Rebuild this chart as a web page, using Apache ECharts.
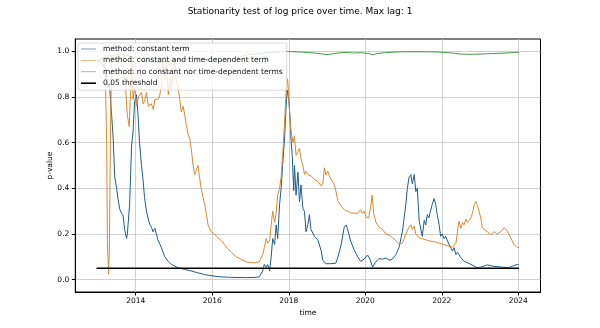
<!DOCTYPE html>
<html>
<head>
<meta charset="utf-8">
<title>Stationarity test of log price</title>
<script src="https://cdn.jsdelivr.net/npm/echarts@6/dist/echarts.min.js"></script>
<style>
  html, body { margin: 0; padding: 0; background: #fff; }
  #chart { width: 600px; height: 328px; }
</style>
</head>
<body>
<div id="chart"></div>
<script>
// p-values of the unit root test, [year, p-value]
var constantTerm = [
  [2012.975, 0.96], [2013.105, 0.95], [2013.21, 0.92], [2013.28, 0.84], [2013.31, 0.86],
  [2013.366, 0.73], [2013.41, 0.62], [2013.45, 0.45], [2013.50, 0.40], [2013.54, 0.35],
  [2013.58, 0.31], [2013.63, 0.29], [2013.67, 0.28], [2013.71, 0.22], [2013.76, 0.18],
  [2013.78, 0.20], [2013.84, 0.33], [2013.89, 0.585], [2013.93, 0.65], [2013.97, 0.78],
  [2014.02, 0.81], [2014.06, 0.72], [2014.10, 0.60], [2014.15, 0.50], [2014.19, 0.44],
  [2014.23, 0.36], [2014.28, 0.30], [2014.32, 0.27], [2014.37, 0.24], [2014.41, 0.23],
  [2014.45, 0.21], [2014.50, 0.225], [2014.54, 0.20], [2014.58, 0.175], [2014.67, 0.14],
  [2014.76, 0.10], [2014.85, 0.08], [2014.93, 0.067], [2015.11, 0.052], [2015.27, 0.045],
  [2015.45, 0.038], [2015.80, 0.022], [2016.15, 0.013], [2016.50, 0.010], [2016.89, 0.009],
  [2017.15, 0.010], [2017.23, 0.013], [2017.32, 0.038], [2017.36, 0.067], [2017.41, 0.055],
  [2017.45, 0.066], [2017.50, 0.039], [2017.54, 0.10], [2017.58, 0.18], [2017.63, 0.154],
  [2017.67, 0.24], [2017.71, 0.18], [2017.76, 0.33], [2017.80, 0.40], [2017.84, 0.50],
  [2017.89, 0.62], [2017.93, 0.76], [2017.96, 0.83], [2018.00, 0.79], [2018.04, 0.69],
  [2018.06, 0.61], [2018.09, 0.545], [2018.13, 0.39], [2018.15, 0.50], [2018.19, 0.37],
  [2018.24, 0.47], [2018.28, 0.34], [2018.32, 0.415], [2018.37, 0.31], [2018.41, 0.30],
  [2018.45, 0.21], [2018.50, 0.24], [2018.54, 0.285], [2018.58, 0.22], [2018.67, 0.19],
  [2018.76, 0.175], [2018.85, 0.125], [2018.89, 0.085], [2018.97, 0.07], [2019.10, 0.07],
  [2019.23, 0.072], [2019.28, 0.096], [2019.37, 0.154], [2019.45, 0.23], [2019.50, 0.24],
  [2019.54, 0.22], [2019.57, 0.20], [2019.62, 0.168], [2019.71, 0.13], [2019.80, 0.10],
  [2019.88, 0.08], [2019.97, 0.09], [2020.06, 0.108], [2020.12, 0.09], [2020.19, 0.055],
  [2020.28, 0.08], [2020.36, 0.092], [2020.45, 0.09], [2020.54, 0.095], [2020.62, 0.085],
  [2020.71, 0.09], [2020.80, 0.11], [2020.88, 0.14], [2020.97, 0.21], [2021.06, 0.33],
  [2021.10, 0.40], [2021.14, 0.445], [2021.19, 0.46], [2021.23, 0.42], [2021.28, 0.46],
  [2021.32, 0.386], [2021.36, 0.40], [2021.41, 0.256], [2021.45, 0.25], [2021.49, 0.19],
  [2021.54, 0.26], [2021.58, 0.24], [2021.62, 0.285], [2021.66, 0.27], [2021.75, 0.33],
  [2021.80, 0.355], [2021.84, 0.33], [2021.88, 0.285], [2021.93, 0.24], [2021.97, 0.19],
  [2022.01, 0.20], [2022.06, 0.18], [2022.10, 0.19], [2022.19, 0.154], [2022.28, 0.125],
  [2022.32, 0.14], [2022.37, 0.11], [2022.41, 0.12], [2022.50, 0.096], [2022.58, 0.081],
  [2022.76, 0.067], [2022.93, 0.052], [2023.02, 0.055], [2023.11, 0.06], [2023.19, 0.065],
  [2023.24, 0.067], [2023.36, 0.058], [2023.54, 0.056], [2023.71, 0.052], [2023.80, 0.056],
  [2023.89, 0.062], [2023.97, 0.067], [2024.02, 0.064]
];

var constantAndTrend = [
  [2012.975, 0.93], [2013.10, 0.97], [2013.20, 0.95], [2013.24, 0.60], [2013.26, 0.16],
  [2013.29, 0.023], [2013.31, 0.12], [2013.34, 0.65], [2013.37, 0.98], [2013.45, 0.96],
  [2013.55, 0.99], [2013.65, 0.93], [2013.73, 0.85], [2013.78, 0.72], [2013.83, 0.67],
  [2013.86, 0.80], [2013.90, 0.97], [2013.93, 0.79], [2013.97, 0.84], [2014.02, 0.76],
  [2014.07, 0.80], [2014.15, 0.82], [2014.19, 0.77], [2014.23, 0.78], [2014.28, 0.82],
  [2014.33, 0.76], [2014.41, 0.77], [2014.46, 0.745], [2014.50, 0.79], [2014.58, 0.79],
  [2014.62, 0.80], [2014.67, 0.85], [2014.71, 0.95], [2014.76, 0.875], [2014.80, 0.96],
  [2014.85, 0.81], [2014.89, 0.88], [2014.93, 0.83], [2014.98, 0.895], [2015.02, 0.97],
  [2015.06, 0.87], [2015.11, 0.84], [2015.15, 0.79], [2015.19, 0.735], [2015.24, 0.76],
  [2015.28, 0.72], [2015.32, 0.68], [2015.37, 0.635], [2015.41, 0.62], [2015.45, 0.575],
  [2015.50, 0.50], [2015.54, 0.46], [2015.58, 0.48], [2015.63, 0.50], [2015.67, 0.445],
  [2015.71, 0.40], [2015.80, 0.33], [2015.85, 0.285], [2015.89, 0.24], [2015.93, 0.235],
  [2015.97, 0.21], [2016.06, 0.20], [2016.15, 0.183], [2016.24, 0.17], [2016.32, 0.154],
  [2016.41, 0.135], [2016.50, 0.12], [2016.63, 0.10], [2016.76, 0.088], [2016.89, 0.078],
  [2017.02, 0.075], [2017.12, 0.074], [2017.17, 0.08], [2017.23, 0.078], [2017.28, 0.095],
  [2017.32, 0.11], [2017.36, 0.14], [2017.41, 0.18], [2017.45, 0.16], [2017.50, 0.17],
  [2017.54, 0.24], [2017.58, 0.30], [2017.63, 0.25], [2017.67, 0.29], [2017.71, 0.37],
  [2017.76, 0.40], [2017.80, 0.45], [2017.84, 0.545], [2017.89, 0.69], [2017.93, 0.82],
  [2017.97, 0.88], [2018.00, 0.80], [2018.04, 0.68], [2018.06, 0.65], [2018.11, 0.60],
  [2018.15, 0.63], [2018.19, 0.545], [2018.24, 0.56], [2018.28, 0.575], [2018.32, 0.53],
  [2018.37, 0.50], [2018.41, 0.46], [2018.45, 0.475], [2018.50, 0.46], [2018.58, 0.455],
  [2018.67, 0.44], [2018.76, 0.43], [2018.85, 0.41], [2018.89, 0.42], [2018.93, 0.49],
  [2018.97, 0.46], [2019.02, 0.475], [2019.06, 0.455], [2019.10, 0.46], [2019.19, 0.415],
  [2019.23, 0.39], [2019.28, 0.345], [2019.37, 0.322], [2019.45, 0.306], [2019.54, 0.30],
  [2019.62, 0.292], [2019.71, 0.292], [2019.80, 0.29], [2019.88, 0.306], [2019.93, 0.29],
  [2019.97, 0.30], [2020.02, 0.275], [2020.09, 0.27], [2020.15, 0.33], [2020.18, 0.37],
  [2020.22, 0.29], [2020.28, 0.25], [2020.36, 0.23], [2020.45, 0.22], [2020.54, 0.20],
  [2020.62, 0.195], [2020.71, 0.185], [2020.80, 0.17], [2020.88, 0.155], [2020.97, 0.16],
  [2021.06, 0.20], [2021.14, 0.23], [2021.19, 0.24], [2021.23, 0.22], [2021.28, 0.235],
  [2021.32, 0.20], [2021.41, 0.183], [2021.49, 0.18], [2021.66, 0.17], [2021.84, 0.165],
  [2022.01, 0.156], [2022.19, 0.146], [2022.28, 0.142], [2022.32, 0.135], [2022.37, 0.16],
  [2022.41, 0.21], [2022.45, 0.256], [2022.50, 0.225], [2022.54, 0.25], [2022.58, 0.24],
  [2022.63, 0.265], [2022.67, 0.25], [2022.76, 0.27], [2022.80, 0.29], [2022.85, 0.328],
  [2022.89, 0.343], [2022.93, 0.325], [2022.97, 0.33], [2023.02, 0.27], [2023.06, 0.227],
  [2023.11, 0.235], [2023.19, 0.21], [2023.28, 0.197], [2023.37, 0.21], [2023.45, 0.20],
  [2023.54, 0.21], [2023.63, 0.227], [2023.71, 0.215], [2023.80, 0.183], [2023.89, 0.154],
  [2023.97, 0.14], [2024.02, 0.142]
];

var noConstant = [
  [2012.975, 0.96], [2013.3, 0.98], [2013.6, 0.99], [2014.0, 0.97], [2014.5, 0.95],
  [2015.0, 0.96], [2015.5, 0.97], [2016.0, 0.96], [2016.3, 0.955], [2016.6, 0.97],
  [2016.9, 0.985], [2017.2, 0.99], [2017.5, 0.995], [2017.8, 0.998], [2018.0, 0.999],
  [2018.3, 0.997], [2018.5, 0.995], [2018.7, 0.992], [2018.89, 0.988], [2019.0, 0.986],
  [2019.1, 0.988], [2019.3, 0.993], [2019.5, 0.995], [2019.7, 0.993], [2019.9, 0.994],
  [2020.1, 0.990], [2020.2, 0.984], [2020.3, 0.99], [2020.5, 0.994], [2020.8, 0.997],
  [2021.0, 0.998], [2021.3, 0.998], [2021.6, 0.998], [2021.9, 0.997], [2022.1, 0.995],
  [2022.3, 0.992], [2022.5, 0.988], [2022.8, 0.987], [2023.0, 0.988], [2023.3, 0.99],
  [2023.6, 0.992], [2023.9, 0.995], [2024.02, 0.996]
];

var threshold = 0.05;
var thresholdSpan = [2012.975, 2024.02];

var xTicks = [2014, 2016, 2018, 2020, 2022, 2024];
var yTicks = [0, 0.2, 0.4, 0.6, 0.8, 1.0];

var names = [
  'method: constant term',
  'method: constant and time-dependent term',
  'method: no constant nor time-dependent terms',
  '0.05 threshold'
];
var colors = ['#1c5c8e', '#e0862c', '#46994a', '#000'];

var font = 'DejaVu Sans';

// legend handles: plain strokes, the extra moveTo points pad the box so the bar stays thin
var thinHandle = 'path://M0,0M0,7.4H30V8.6H0ZM30,16';
var thickHandle = 'path://M0,0M0,6.4H30V9.6H0ZM30,16';

var chart = echarts.init(document.getElementById('chart'));

function lineSeries(name, data, color, width) {
  return {
    name: name,
    type: 'line',
    data: data,
    showSymbol: false,
    symbol: 'none',
    animation: false,
    lineStyle: { color: color, width: width },
    itemStyle: { color: color }
  };
}

var option = {
  animation: false,
  title: {
    text: 'Stationarity test of log price over time. Max lag: 1',
    left: 'center',
    top: 2,
    textStyle: { fontFamily: font, fontSize: 9, fontWeight: 'normal', color: '#000' }
  },
  legend: {
    orient: 'vertical',
    left: 78,
    top: 43,
    padding: [2, 4, 3, 3],
    itemWidth: 15,
    itemHeight: 8,
    itemGap: 3.4,
    backgroundColor: 'rgba(255,255,255,0.8)',
    borderColor: '#d0d0d0',
    borderWidth: 0.8,
    borderRadius: 2,
    textStyle: { fontFamily: font, fontSize: 7.5, color: '#111', padding: [0, 0, 0, 2] },
    data: names.map(function (n, i) {
      return { name: n, icon: i === 3 ? thickHandle : thinHandle };
    })
  },
  grid: {
    left: 75.3,
    right: 59.5,
    top: 39,
    bottom: 36,
    show: true,
    borderColor: '#000',
    borderWidth: 1,
    containLabel: false
  },
  xAxis: {
    type: 'value',
    min: 2012.42,
    max: 2024.58,
    name: 'time',
    nameLocation: 'middle',
    nameGap: 17,
    nameMoveOverlap: false,
    nameTextStyle: { fontFamily: font, fontSize: 7.5, color: '#000' },
    axisLine: { show: true, onZero: false, lineStyle: { color: '#000', width: 1 } },
    axisTick: { show: true, length: 3.5, customValues: xTicks, lineStyle: { color: '#000' } },
    axisLabel: {
      customValues: xTicks,
      margin: 5,
      fontFamily: font, fontSize: 7.5, color: '#000',
      formatter: function (v) { return String(Math.round(v)); }
    },
    splitLine: { show: true, lineStyle: { color: '#c4c4c4', width: 0.8 } }
  },
  yAxis: {
    type: 'value',
    min: -0.054,
    max: 1.054,
    name: 'p-value',
    nameLocation: 'middle',
    nameGap: 21,
    nameMoveOverlap: false,
    nameRotate: 90,
    nameTextStyle: { fontFamily: font, fontSize: 7.5, color: '#000' },
    axisLine: { show: true, lineStyle: { color: '#000', width: 1 } },
    axisTick: { show: true, length: 3.5, customValues: yTicks, lineStyle: { color: '#000' } },
    axisLabel: {
      customValues: yTicks,
      margin: 6,
      fontFamily: font, fontSize: 7.5, color: '#000',
      formatter: function (v) { return v.toFixed(1); }
    },
    splitLine: { show: true, lineStyle: { color: '#c4c4c4', width: 0.8 } }
  },
  series: [
    lineSeries(names[0], constantTerm, colors[0], 1),
    lineSeries(names[1], constantAndTrend, colors[1], 1),
    lineSeries(names[2], noConstant, colors[2], 1),
    lineSeries(names[3], thresholdSpan.map(function (t) { return [t, threshold]; }), colors[3], 1.6)
  ]
};

chart.setOption(option);
</script>
</body>
</html>
